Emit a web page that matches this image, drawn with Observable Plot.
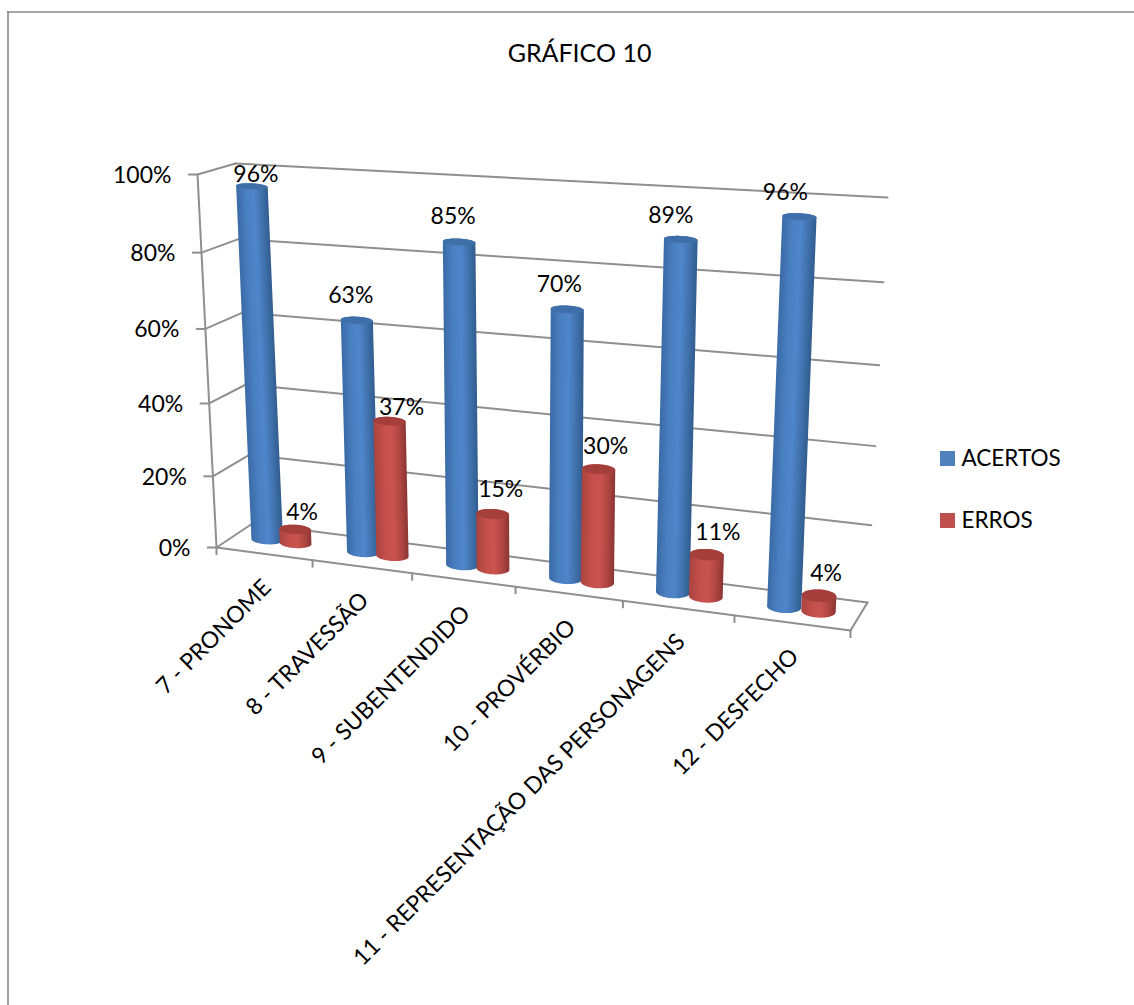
<!DOCTYPE html>
<html lang="pt">
<head>
<meta charset="utf-8">
<title>GRÁFICO 10</title>
<style>
  html, body { margin: 0; padding: 0; background: #fff; }
  svg { display: block; }
</style>
<script src="https://cdn.jsdelivr.net/npm/d3@7"></script>
<script src="https://cdn.jsdelivr.net/npm/@observablehq/plot@0.6"></script>
</head>
<body>
<div id="chart"></div>
<script>
// Question results, one value per category
const categories = ["7 - PRONOME", "8 - TRAVESSÃO", "9 - SUBENTENDIDO", "10 - PROVÉRBIO", "11 - REPRESENTAÇÃO DAS PERSONAGENS", "12 - DESFECHO"];
const acertos = [96, 63, 85, 70, 89, 96];
const erros = [4, 37, 15, 30, 11, 4];
const yTicks = [0, 20, 40, 60, 80, 100];
const seriesNames = ["ACERTOS", "ERROS"];

// Hand placement of the value labels relative to each cylinder top
const acertosNudge = [[4, -12], [-6, -25], [-6, -25], [-8, -25], [-10, -24], [-14, -24]];
const errosNudge = [[7, -17], [12, -14], [8, -24], [7, -23], [11, -22], [7, -22]];

const W = 1134, H = 1005;
const FONT = "Lato, Carlito, sans-serif";
const GRID = "#8f8f8f";

// Corners of the 3D plot box on screen
const box = {
  flb: [216, 547], flt: [197, 174],
  blb: [252, 523], blt: [235, 163],
  frb: [850, 630], frt: [871, 209],
  brb: [867, 602], brt: [887, 197]
};
const lerp = (a, b, k) => a + (b - a) * k;
const lerp2 = (p, q, k) => [lerp(p[0], q[0], k), lerp(p[1], q[1], k)];

// Perspective compression along the category and value axes
const persp = t => t / (t + 1.12 * (1 - t));
const perspV = h => h / (h + 1.06 * (1 - h));

// t: 0..1 along categories, v: 0..100 value, z: 0 front .. 1 back
function project(t, v, z) {
  const s = persp(t), h = perspV(v / 100);
  const fb = lerp2(box.flb, box.frb, s), bb = lerp2(box.blb, box.brb, s);
  const ft = lerp2(box.flt, box.frt, s), bt = lerp2(box.blt, box.brt, s);
  return lerp2(lerp2(fb, bb, z), lerp2(ft, bt, z), h);
}

// Outline of one cylinder, in screen units
const ellipsePoint = (c, rx, ry, a) => [c[0] + rx * Math.cos(a), c[1] + ry * Math.sin(a) + 0.05 * rx * Math.cos(a)];
function cylinder(t, v) {
  const s = persp(t);
  const rx = 15.7 + 1.6 * s;
  const base = project(t, 0, 0.5), top = project(t, v, 0.5);
  const ryAt = h => lerp(3 + 0.3 * s, 4.5 + 2 * s, 1 - h / 100);
  const ryBase = ryAt(0), ryTop = ryAt(v);
  const steps = d3.range(0, 41).map(i => i / 40 * Math.PI);
  const body = [
    ...steps.map(a => ellipsePoint(base, rx, ryBase, a)),
    ...steps.map(a => ellipsePoint(top, rx, ryTop, -a)).reverse()
  ];
  const cap = d3.range(0, 61).map(i => ellipsePoint(top, rx, ryTop, i / 60 * 2 * Math.PI));
  return {base, top, rx, body, cap};
}

const palette = {
  ACERTOS: {
    flat: "#4f81bd", cap: "#3f6fa9",
    stops: [[0, "#3a6ba6"], [0.3, "#4a7fc1"], [0.55, "#4f86ca"], [0.8, "#3f70aa"], [1, "#315c8f"]]
  },
  ERROS: {
    flat: "#c0504d", cap: "#a43f3c",
    stops: [[0, "#a9433f"], [0.3, "#c44f4b"], [0.55, "#ca534f"], [0.8, "#ae4542"], [1, "#8a3532"]]
  }
};

// Blue and red stand side by side in each category, drawn left to right
const cylinders = categories.flatMap((c, i) => [
  {id: `c${i}a`, name: "ACERTOS", value: acertos[i], t: (i + 0.35) / 6, nudge: acertosNudge[i]},
  {id: `c${i}e`, name: "ERROS", value: erros[i], t: (i + 0.65) / 6, nudge: errosNudge[i]}
]).map(d => ({...d, ...cylinder(d.t, d.value)}));

// Side shading runs across each cylinder, square to its slanted axis
function gradients() {
  const defs = d3.create("svg:defs");
  for (const d of cylinders) {
    const mid = lerp2(d.base, d.top, 0.5);
    const ax = d.top[0] - d.base[0], ay = d.top[1] - d.base[1], len = Math.hypot(ax, ay);
    const ux = -ay / len, uy = ax / len;
    const sign = ux < 0 ? -1 : 1;
    const g = defs.append("linearGradient")
      .attr("id", d.id)
      .attr("gradientUnits", "userSpaceOnUse")
      .attr("x1", mid[0] - sign * ux * d.rx).attr("y1", mid[1] - sign * uy * d.rx)
      .attr("x2", mid[0] + sign * ux * d.rx).attr("y2", mid[1] + sign * uy * d.rx);
    for (const [o, col] of palette[d.name].stops) g.append("stop").attr("offset", o).attr("stop-color", col);
  }
  return defs.node();
}

const px = p => p[0], py = p => p[1];
const segment = (a, b) => Plot.line([a, b], {x: px, y: py, stroke: GRID, strokeWidth: 2});

const gridMarks = [
  // Back wall and left wall gridlines
  ...yTicks.map(v => segment(project(0, v, 1), project(1, v, 1))),
  ...yTicks.map(v => segment(project(0, v, 0), project(0, v, 1))),
  // Value axis and floor edges
  segment(project(0, 0, 0), project(0, 100, 0)),
  segment(project(0, 0, 0), project(1, 0, 0)),
  segment(project(1, 0, 0), project(1, 0, 1))
];

const tickMarks = [
  Plot.ruleY(yTicks, {
    x1: v => project(0, v, 0)[0] - 9, x2: v => project(0, v, 0)[0],
    y: v => project(0, v, 0)[1], stroke: GRID, strokeWidth: 2
  }),
  Plot.ruleX(d3.range(0, 7), {
    x: i => project(i / 6, 0, 0)[0],
    y1: i => project(i / 6, 0, 0)[1], y2: i => project(i / 6, 0, 0)[1] + 8,
    stroke: GRID, strokeWidth: 2
  })
];

const cylinderMarks = cylinders.flatMap(d => [
  Plot.line(d.body, {x: px, y: py, fill: `url(#${d.id})`, stroke: "none"}),
  Plot.line(d.cap, {x: px, y: py, fill: palette[d.name].cap, stroke: "none"})
]);

const textBase = {fontFamily: FONT, fill: "#000", stroke: "none"};

const plot = Plot.plot({
  width: W,
  height: H,
  margin: 0,
  x: {domain: [0, W], range: [0, W], axis: null},
  y: {domain: [0, H], range: [0, H], axis: null},
  marks: [
    gradients,
    // Chart frame
    Plot.ruleX([7.5], {y1: 11, y2: H, stroke: "#8a8a8a", strokeWidth: 1.6}),
    Plot.ruleY([11.5], {x1: 7, x2: W, stroke: "#8a8a8a", strokeWidth: 1.6}),
    Plot.text(["GRÁFICO 10"], {...textBase, x: 579, y: 53, fontSize: 25}),
    ...gridMarks,
    ...tickMarks,
    ...cylinderMarks,
    // Value axis labels
    Plot.text(yTicks, {
      ...textBase,
      x: v => project(0, v, 0)[0] - 26,
      y: v => project(0, v, 0)[1] + 1,
      text: v => `${v}%`,
      textAnchor: "end",
      fontSize: 23
    }),
    // Category labels
    Plot.text(categories, {
      ...textBase,
      x: (c, i) => project((i + 0.5) / 6, 0, 0)[0] + 3,
      y: (c, i) => project((i + 0.5) / 6, 0, 0)[1] + 30,
      text: c => c,
      textAnchor: "end",
      rotate: -45,
      fontSize: 23
    }),
    // Value labels above the cylinders
    Plot.text(cylinders, {
      ...textBase,
      x: d => d.top[0] + d.nudge[0],
      y: d => d.top[1] + d.nudge[1],
      text: d => `${d.value}%`,
      fontSize: 23
    }),
    // Legend
    Plot.rect(seriesNames, {
      x1: 940, x2: 955,
      y1: (n, i) => 451 + i * 62, y2: (n, i) => 466 + i * 62,
      fill: n => palette[n].flat
    }),
    Plot.text(seriesNames, {
      ...textBase,
      x: 961,
      y: (n, i) => 458 + i * 62,
      text: n => n,
      textAnchor: "start",
      fontSize: 22.5
    })
  ],
  color: {type: "identity"}
});
document.getElementById("chart").append(plot);
</script>
</body>
</html>
